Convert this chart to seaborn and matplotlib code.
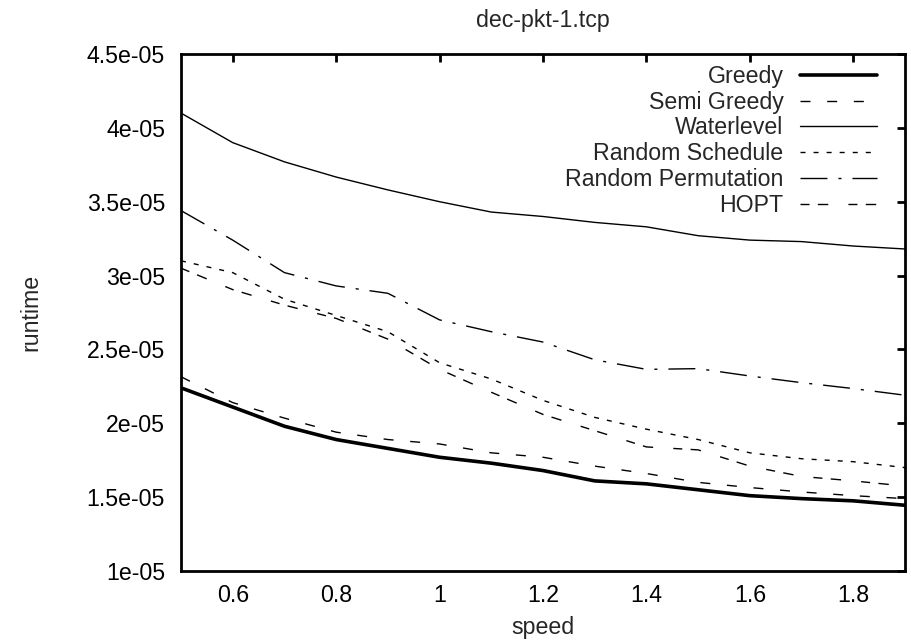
import matplotlib
matplotlib.use('Agg')
import matplotlib.pyplot as plt
from matplotlib.ticker import FuncFormatter, MultipleLocator
import pandas as pd
import seaborn as sns


# Data (runtime in units of 1e-05)
speed = [0.5, 0.6, 0.7, 0.8, 0.9, 1.0, 1.1, 1.2, 1.3, 1.4, 1.5, 1.6, 1.7, 1.8, 1.9]
greedy = [2.24, 2.11, 1.98, 1.89, 1.83, 1.77, 1.73, 1.68, 1.61, 1.59,
          1.55, 1.51, 1.49, 1.475, 1.445]
semi_greedy = [2.315, 2.14, 2.035, 1.94, 1.89, 1.86, 1.80, 1.77, 1.71, 1.66,
               1.60, 1.565, 1.535, 1.51, 1.49]
waterlevel = [4.10, 3.90, 3.77, 3.667, 3.58, 3.50, 3.43, 3.40, 3.36, 3.33,
              3.27, 3.24, 3.23, 3.20, 3.18]
random_schedule = [3.10, 3.02, 2.84, 2.73, 2.62, 2.41, 2.30, 2.155, 2.04, 1.96,
                   1.89, 1.80, 1.76, 1.74, 1.70]
random_permutation = [3.44, 3.24, 3.02, 2.93, 2.88, 2.70, 2.62, 2.55, 2.43, 2.365,
                      2.37, 2.32, 2.275, 2.235, 2.19]
hopt = [3.05, 2.905, 2.80, 2.71, 2.57, 2.365, 2.21, 2.06, 1.95, 1.84,
        1.82, 1.71, 1.64, 1.61, 1.575]

series = {
    'Greedy': greedy,
    'Semi Greedy': semi_greedy,
    'Waterlevel': waterlevel,
    'Random Schedule': random_schedule,
    'Random Permutation': random_permutation,
    'HOPT': hopt,
}

# gnuplot-like line styles (dash lengths in points)
styles = {
    'Greedy': dict(linewidth=2.6, linestyle='-'),
    'Semi Greedy': dict(linewidth=1.0, linestyle=(0, (7.2, 12.0))),
    'Waterlevel': dict(linewidth=1.0, linestyle='-'),
    'Random Schedule': dict(linewidth=1.0, linestyle=(0, (3.6, 5.8))),
    'Random Permutation': dict(linewidth=1.0, linestyle=(0, (19.4, 7.9, 2.2, 7.9))),
    'HOPT': dict(linewidth=1.0, linestyle=(0, (6.5, 6.0, 7.5, 14.5))),
}

df = pd.DataFrame([
    {'speed': s, 'runtime': v * 1e-05, 'method': name}
    for name, vals in series.items() for s, v in zip(speed, vals)
])

sns.set_style('white')
plt.rcParams['font.family'] = ['Liberation Sans', 'DejaVu Sans']
plt.rcParams['lines.scale_dashes'] = False
FS = 16.7

fig = plt.figure(figsize=(9.11, 6.44), dpi=100)
ax = fig.add_axes([181 / 911, 1 - 571 / 644, 724 / 911, 517 / 644])

for name in series:
    sub = df[df['method'] == name]
    sns.lineplot(data=sub, x='speed', y='runtime', ax=ax, color='black',
                 label=name, legend=False, **styles[name])

ax.set_xlim(0.5, 1.9)
ax.set_ylim(1e-05, 4.5e-05)
ax.xaxis.set_major_locator(MultipleLocator(0.2))
ax.yaxis.set_major_locator(MultipleLocator(0.5e-05))
fmt = FuncFormatter(lambda v, p: '%g' % round(v, 10))
ax.xaxis.set_major_formatter(fmt)
ax.yaxis.set_major_formatter(fmt)

for sp in ax.spines.values():
    sp.set_visible(True)
    sp.set_color('black')
    sp.set_linewidth(2.0)
ax.tick_params(direction='in', length=6, width=2.0, colors='black',
               top=True, right=True, labelsize=FS)
ax.tick_params(axis='x', pad=9)
ax.tick_params(axis='y', pad=11.5)

ax.set_title('dec-pkt-1.tcp', fontsize=FS, pad=19.5)
ax.set_xlabel('speed', fontsize=FS)
ax.set_ylabel('runtime', fontsize=FS)
ax.xaxis.set_label_coords(0.5, -0.088)
ax.yaxis.set_label_coords(-0.192, 0.5)

leg = ax.legend(loc='upper right', bbox_to_anchor=(0.9613, 0.979),
                frameon=False, fontsize=FS, markerfirst=False,
                handlelength=3.3, handletextpad=0.73, labelspacing=0.12,
                borderpad=0, borderaxespad=0)

fig.savefig('out.png', dpi=100)
